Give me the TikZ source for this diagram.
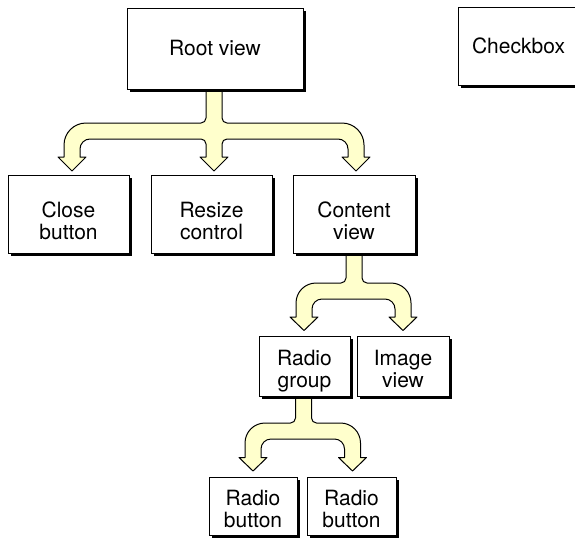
\documentclass[tikz,border=0pt]{standalone}
\usepackage{fontspec}
\setmainfont{TeX Gyre Heros}
\definecolor{forkfill}{HTML}{FFFFCC}
\tikzset{
  box/.style={draw=black, fill=white, line width=1pt, inner sep=0pt,
    align=center, font=\fontsize{21}{22}\selectfont},
  boxshadow/.style={fill=black},
  twoline/.style={text height=#1, text depth=0pt},
  forkstyle/.style={draw=black, fill=forkfill, line width=1pt, line join=round}
}
% #1 name, #2 x, #3 y, #4 width, #5 height, #6 extra options, #7 text
\newcommand\viewbox[7]{%
  \fill[boxshadow] ({#2-#4/2+2.5},{#3-#5/2+2.5}) rectangle ({#2+#4/2+2.5},{#3+#5/2+2.5});
  \node[box, minimum width=#4pt, minimum height=#5pt, #6] (#1) at (#2,#3) {#7};}
% #1 stem x, #2 stem top, #3 bar top, #4 left x, #5 right x, #6 head base, #7 tip, #8 outer radius
\newcommand\forktwo[8]{%
  \draw[forkstyle] ({#1-8},#2) -- ({#1-8},{#3-5}) arc[start angle=0,end angle=90,radius=5]
   -- ({#4-8+#8},#3) arc[start angle=270,end angle=180,radius=#8]
   -- ({#4-8},#6) -- ({#4-14},#6) -- (#4,#7) -- ({#4+14},#6) -- ({#4+8},#6)
   -- ({#4+8},{#3+26}) arc[start angle=180,end angle=270,radius=10]
   -- ({#5-18},{#3+16}) arc[start angle=270,end angle=360,radius=10]
   -- ({#5-8},#6) -- ({#5-14},#6) -- (#5,#7) -- ({#5+14},#6) -- ({#5+8},#6)
   -- ({#5+8},{#3+#8}) arc[start angle=0,end angle=-90,radius=#8]
   -- ({#1+13},#3) arc[start angle=90,end angle=180,radius=5]
   -- ({#1+8},#2) -- cycle;}
\begin{document}
\begin{tikzpicture}[x=1pt,y=-1pt]
\useasboundingbox (0,0) rectangle (575,538);
\clip (0,0) rectangle (575,538);

% fork from root view (three heads)
\draw[forkstyle] (206,89) -- (206,118) arc[start angle=0,end angle=90,radius=5]
  -- (86,123) arc[start angle=270,end angle=180,radius=22]
  -- (64,157) -- (58,157) -- (72,171) -- (86,157) -- (80,157)
  -- (80,149) arc[start angle=180,end angle=270,radius=10]
  -- (201,139) arc[start angle=270,end angle=360,radius=5]
  -- (206,157) -- (200,157) -- (214,171) -- (228,157) -- (222,157)
  -- (222,144) arc[start angle=180,end angle=270,radius=5]
  -- (338,139) arc[start angle=270,end angle=360,radius=10]
  -- (348,157) -- (342,157) -- (356,171) -- (370,157) -- (364,157)
  -- (364,145) arc[start angle=0,end angle=-90,radius=22]
  -- (227,123) arc[start angle=90,end angle=180,radius=5]
  -- (222,89) -- cycle;
% fork from content view
\forktwo{354}{253}{283}{304}{403}{317}{330.5}{20}
% fork from radio group
\forktwo{303.5}{396}{423}{253}{352.5}{457.5}{471}{20}

\viewbox{root}{215}{48.5}{176}{81}{}{Root view}
\viewbox{checkbox}{518.5}{46}{121}{78}{}{Checkbox}
\viewbox{close}{68.5}{214}{121}{78}{twoline=50pt}{Close\\button}
\viewbox{resize}{211.5}{214}{121}{78}{twoline=50pt}{Resize\\control}
\viewbox{content}{354}{214}{122}{78}{twoline=50pt}{Content\\view}
\viewbox{radiogroup}{304.5}{366}{91}{60}{twoline=42pt}{Radio\\group}
\viewbox{imageview}{403}{366}{92}{60}{twoline=42pt}{Image\\view}
\viewbox{radiobtnA}{253}{506}{88}{58}{twoline=43pt}{Radio\\button}
\viewbox{radiobtnB}{351.5}{506}{89}{58}{twoline=43pt}{Radio\\button}
\end{tikzpicture}
\end{document}
